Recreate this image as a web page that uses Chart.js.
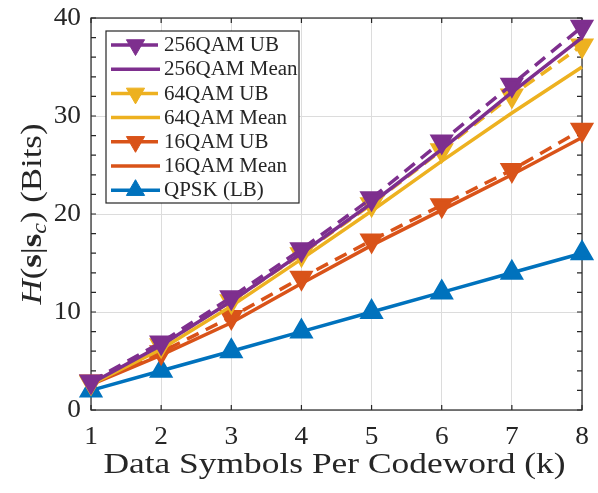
<!DOCTYPE html>
<html>
<head>
<meta charset="utf-8">
<title>H(s|sc) vs data symbols per codeword</title>
<script src="https://cdn.jsdelivr.net/npm/chart.js@4.4.1/dist/chart.umd.min.js"></script>
<style>
    html, body { margin: 0; padding: 0; background: #fff; }
    #wrap { width: 598px; height: 493px; }
</style>
</head>
<body>
<div id="wrap"><canvas id="chart" width="598" height="493"></canvas></div>
<script>
/* ============================================
   Data
   ============================================ */
const symbolsK   = [1, 2, 3, 4, 5, 6, 7, 8];
const qam256UB   = [2.9, 6.9, 11.5, 16.4, 21.6, 27.4, 33.2, 39.1];
const qam256Mean = [2.7, 6.6, 11.1, 16.0, 21.1, 26.6, 32.4, 38.0];
const qam64UB    = [2.8, 6.6, 11.1, 15.9, 21.0, 26.5, 32.1, 37.2];
const qam64Mean  = [2.6, 6.2, 10.6, 15.4, 20.3, 25.4, 30.3, 35.0];
const qam16UB    = [2.9, 5.9, 9.5, 13.5, 17.3, 20.9, 24.5, 28.6];
const qam16Mean  = [2.6, 5.6, 8.9, 12.9, 16.8, 20.4, 24.0, 27.8];
const qpskLB     = [2, 4, 6, 8, 10, 12, 14, 16];
const xTicks     = [1, 2, 3, 4, 5, 6, 7, 8];
const yTicks     = [0, 10, 20, 30, 40];

const axisColor = '#262626';
const serif = '"Liberation Serif", "Times New Roman", serif';

/**
 * Build one line dataset from a value array.
 */
function series(label, values, color, extra) {
    return Object.assign({
        label: label,
        data: symbolsK.map((k, i) => ({ x: k, y: values[i] })),
        borderColor: color,
        backgroundColor: color,
        borderWidth: 3.5,
        pointRadius: 0,
        pointHoverRadius: 0,
        tension: 0,
        clip: false
    }, extra || {});
}

const ubStyle = { borderDash: [13, 8], pointStyle: 'triangle', rotation: 180, pointRadius: 10.5 };

/**
 * Draw text with a little horizontal stretch (the original uses a wide TeX font).
 */
function drawText(ctx, text, x, y, size, align, sx, style, baseline) {
    ctx.save();
    ctx.font = (style ? style + ' ' : '') + size + 'px ' + serif;
    ctx.fillStyle = axisColor;
    ctx.textAlign = align;
    ctx.textBaseline = baseline || 'middle';
    ctx.translate(x, y);
    ctx.scale(sx, 1);
    ctx.fillText(text, 0, 0);
    ctx.restore();
}

// box, inner ticks (major + minor)
const axesFrame = {
    id: 'axesFrame',
    beforeDatasetsDraw(chart) {
        const { ctx, chartArea: a, scales } = chart;
        ctx.save();
        ctx.strokeStyle = axisColor;
        ctx.lineWidth = 1.2;
        ctx.strokeRect(a.left, a.top, a.right - a.left, a.bottom - a.top);
        ctx.beginPath();
        for (let v = 0; v <= 40; v += 2) {
            const y = scales.y.getPixelForValue(v);
            ctx.moveTo(a.left, y); ctx.lineTo(a.left + 5, y);
            ctx.moveTo(a.right, y); ctx.lineTo(a.right - 5, y);
        }
        xTicks.forEach(v => {
            const x = scales.x.getPixelForValue(v);
            ctx.moveTo(x, a.bottom); ctx.lineTo(x, a.bottom - 5);
            ctx.moveTo(x, a.top); ctx.lineTo(x, a.top + 5);
        });
        ctx.stroke();
        ctx.restore();
    }
};

// legend box in the upper left corner of the axes
const legendBox = {
    id: 'legendBox',
    afterDatasetsDraw(chart) {
        const ctx = chart.ctx;
        const box = { x: 106, y: 31, w: 193, h: 172 };
        ctx.save();
        ctx.fillStyle = '#fff';
        ctx.fillRect(box.x, box.y, box.w, box.h);
        ctx.strokeStyle = axisColor;
        ctx.lineWidth = 1.2;
        ctx.strokeRect(box.x, box.y, box.w, box.h);
        chart.data.datasets.forEach((ds, i) => {
            const y = 45 + i * 24.2;
            ctx.save();
            ctx.strokeStyle = ds.borderColor;
            ctx.lineWidth = ds.borderWidth;
            ctx.setLineDash(ds.borderDash ? [19, 9] : []);
            ctx.beginPath();
            ctx.moveTo(111, y);
            ctx.lineTo(160, y);
            ctx.stroke();
            ctx.restore();
            if (ds.pointStyle) {
                ctx.save();
                ctx.fillStyle = ds.backgroundColor;
                ctx.strokeStyle = ds.borderColor;
                ctx.lineWidth = 1;
                Chart.helpers.drawPoint(ctx, {
                    pointStyle: ds.pointStyle,
                    rotation: ds.rotation || 0,
                    radius: ds.pointRadius,
                    borderWidth: 1
                }, 135.5, y);
                ctx.restore();
            }
            drawText(ctx, ds.label, 164, y + 1, 20, 'left', 1.05);
        });
        ctx.restore();
    }
};

// tick labels and axis titles
const axisText = {
    id: 'axisText',
    afterDraw(chart) {
        const { ctx, chartArea: a, scales } = chart;
        yTicks.forEach(v => {
            drawText(ctx, String(v), a.left - 10, scales.y.getPixelForValue(v), 26, 'right', 1.05);
        });
        xTicks.forEach(v => {
            drawText(ctx, String(v), scales.x.getPixelForValue(v), 437, 26, 'center', 1.05);
        });
        drawText(ctx, 'Data Symbols Per Codeword (k)', (a.left + a.right) / 2 - 2, 473, 30, 'center', 1.18, '', 'alphabetic');

        // y title: H(s|s_c) (Bits), rotated
        const size = 29;
        const parts = [
            { t: 'H', f: 'italic ' + size + 'px ' + serif, dy: 0 },
            { t: '(', f: size + 'px ' + serif, dy: 0 },
            { t: 's', f: 'bold ' + size + 'px ' + serif, dy: 0 },
            { t: '|', f: size + 'px ' + serif, dy: 0 },
            { t: 's', f: 'bold ' + size + 'px ' + serif, dy: 0 },
            { t: 'c', f: 'italic ' + Math.round(size * 0.7) + 'px ' + serif, dy: 5 },
            { t: ') (Bits)', f: size + 'px ' + serif, dy: 0 }
        ];
        const sx = 1.2;
        ctx.save();
        let total = 0;
        parts.forEach(p => { ctx.font = p.f; p.w = ctx.measureText(p.t).width; total += p.w; });
        ctx.translate(41, (a.top + a.bottom) / 2 + 0);
        ctx.rotate(-Math.PI / 2);
        ctx.scale(sx, 1);
        ctx.fillStyle = axisColor;
        ctx.textBaseline = 'alphabetic';
        ctx.textAlign = 'left';
        let x = -total / 2;
        parts.forEach(p => { ctx.font = p.f; ctx.fillText(p.t, x, p.dy); x += p.w; });
        ctx.restore();
    }
};

document.addEventListener('DOMContentLoaded', function () {
    const canvas = document.getElementById('chart');
    new Chart(canvas, {
        type: 'line',
        data: {
            datasets: [
                series('256QAM UB', qam256UB, '#7E2F8E', ubStyle),
                series('256QAM Mean', qam256Mean, '#7E2F8E'),
                series('64QAM UB', qam64UB, '#EDB120', ubStyle),
                series('64QAM Mean', qam64Mean, '#EDB120'),
                series('16QAM UB', qam16UB, '#D95319', ubStyle),
                series('16QAM Mean', qam16Mean, '#D95319'),
                series('QPSK (LB)', qpskLB, '#0072BD', { pointStyle: 'triangle', pointRadius: 10.5 })
            ]
        },
        options: {
            responsive: false,
            devicePixelRatio: 1,
            animation: false,
            layout: { padding: { top: 18, right: 16, left: 0, bottom: 0 } },
            plugins: {
                legend: { display: false },
                tooltip: { enabled: false }
            },
            scales: {
                x: {
                    type: 'linear',
                    min: 1,
                    max: 8,
                    ticks: { stepSize: 1, display: false },
                    grid: { color: '#dcdcdc', lineWidth: 1, drawTicks: false },
                    border: { display: false },
                    afterFit: s => { s.height = 83; }
                },
                y: {
                    min: 0,
                    max: 40,
                    ticks: { stepSize: 10, display: false },
                    grid: { color: '#dcdcdc', lineWidth: 1, drawTicks: false },
                    border: { display: false },
                    afterFit: s => { s.width = 91; }
                }
            }
        },
        plugins: [axesFrame, legendBox, axisText]
    });
});
</script>
</body>
</html>
